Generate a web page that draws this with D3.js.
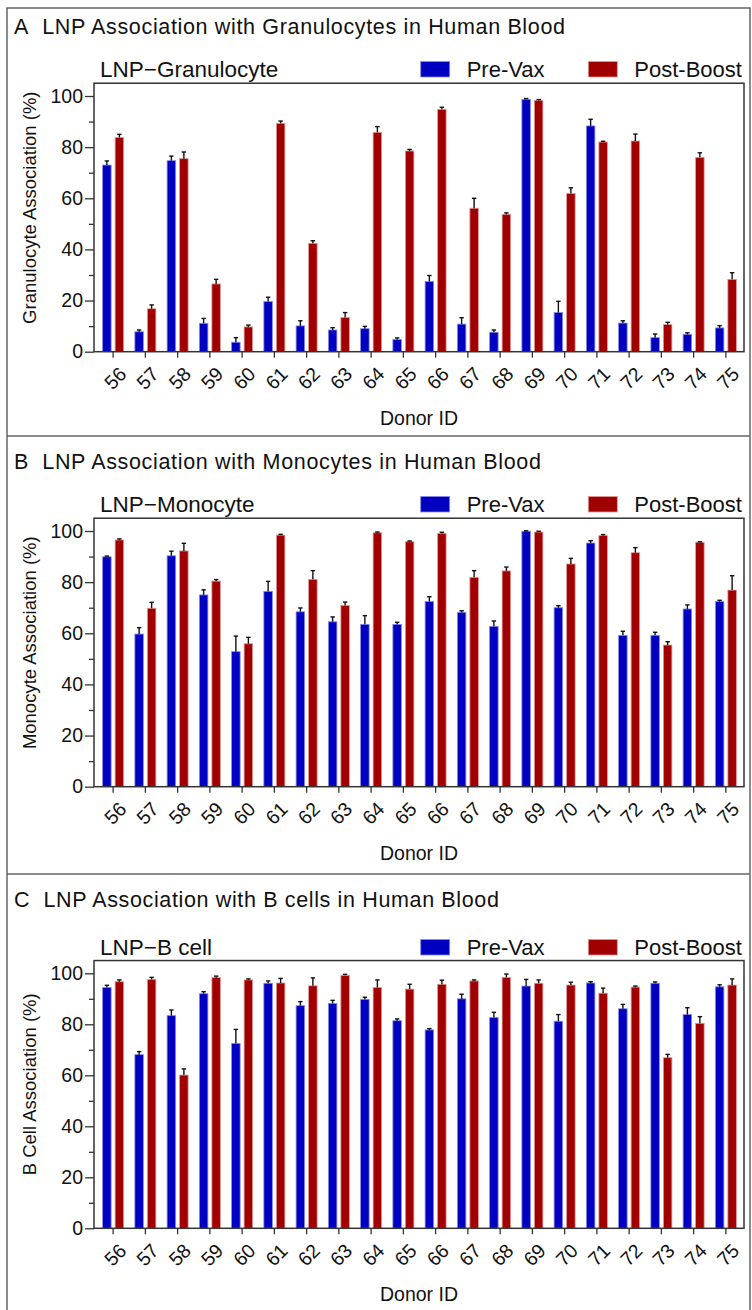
<!DOCTYPE html>
<html><head><meta charset="utf-8">
<script src="https://cdn.jsdelivr.net/npm/d3@7/dist/d3.min.js"></script>
<style>
html,body{margin:0;padding:0;background:#fff;}
text{font-family:"Liberation Sans",Arial,Helvetica,sans-serif;fill:#111;}
</style></head>
<body>
<svg id="chart" width="752" height="1310"></svg>
<script>
const donors = ["56","57","58","59","60","61","62","63","64","65","66","67","68","69","70","71","72","73","74","75"];
const seriesNames = ["Pre-Vax","Post-Boost"];
const yTicks = [0,20,40,60,80,100];

const granPre     = [73.0, 7.8, 74.7, 11.1, 3.7, 19.6, 10.1, 8.5, 9.0, 4.8, 27.5, 10.8, 7.6, 98.7, 15.3, 88.3, 11.2, 5.5, 6.8, 9.3];
const granPreErr  = [1.6, 0.7, 1.8, 1.9, 1.8, 1.7, 2.0, 0.9, 0.9, 0.6, 2.3, 2.5, 0.9, 0.3, 4.4, 2.6, 0.9, 1.4, 0.6, 0.9];
const granPost    = [83.8, 16.8, 75.5, 26.5, 9.7, 89.3, 42.4, 13.4, 85.8, 78.5, 94.8, 56.1, 53.7, 98.3, 61.9, 82.0, 82.4, 10.6, 76.0, 28.3];
const granPostErr = [1.2, 1.5, 2.6, 1.8, 0.7, 0.9, 1.0, 1.9, 2.2, 0.6, 0.8, 3.9, 0.6, 0.3, 2.2, 0.3, 2.7, 0.9, 1.8, 2.6];

const monoPre     = [89.9, 59.7, 90.3, 75.0, 52.8, 76.4, 68.4, 64.5, 63.5, 63.5, 72.4, 68.2, 62.7, 99.9, 70.0, 95.3, 59.2, 59.2, 69.5, 72.4];
const monoPreErr  = [0.3, 2.5, 1.8, 2.0, 6.1, 3.9, 1.5, 1.9, 3.4, 0.8, 1.9, 0.6, 2.1, 0.2, 0.8, 0.9, 1.6, 1.2, 1.6, 0.5];
const monoPost    = [96.5, 69.8, 92.2, 80.4, 55.9, 98.4, 81.1, 70.9, 99.3, 95.8, 99.1, 81.9, 84.4, 99.6, 87.1, 98.2, 91.5, 55.4, 95.6, 76.9];
const monoPostErr = [0.4, 2.3, 3.0, 0.6, 2.5, 0.3, 3.4, 1.3, 0.3, 0.3, 0.4, 2.6, 1.5, 0.3, 2.2, 0.4, 2.0, 1.3, 0.2, 5.6];

const bPre     = [94.4, 68.1, 83.4, 92.0, 72.5, 96.1, 87.3, 88.2, 89.8, 81.4, 77.8, 90.0, 82.7, 95.0, 81.2, 96.2, 86.1, 96.1, 83.8, 94.7];
const bPreErr  = [0.9, 1.2, 2.2, 0.8, 5.5, 0.9, 1.6, 1.2, 0.8, 0.7, 0.5, 1.8, 2.0, 2.6, 2.6, 0.5, 1.7, 0.5, 2.7, 0.8];
const bPost    = [96.7, 97.6, 60.1, 98.3, 97.4, 96.2, 95.1, 99.2, 94.4, 93.8, 95.7, 97.0, 98.4, 96.1, 95.4, 92.2, 94.6, 66.9, 80.4, 95.4];
const bPostErr = [0.7, 0.8, 2.4, 0.6, 0.4, 1.8, 3.1, 0.4, 3.0, 1.9, 1.6, 0.4, 1.3, 1.3, 1.1, 2.0, 0.4, 1.3, 2.6, 2.4];

const panels = [
  {title:"A\u00a0\u00a0LNP Association with Granulocytes in Human Blood", sub:"LNP\u2212Granulocyte", ylab:"Granulocyte Association (%)",
   pre:granPre, preErr:granPreErr, post:granPost, postErr:granPostErr, y100:96, y0:351.7, titleY:34, subY:77},
  {title:"B\u00a0\u00a0LNP Association with Monocytes in Human Blood", sub:"LNP\u2212Monocyte", ylab:"Monocyte Association (%)",
   pre:monoPre, preErr:monoPreErr, post:monoPost, postErr:monoPostErr, y100:531, y0:786.7, titleY:469, subY:512},
  {title:"C\u00a0\u00a0LNP Association with B cells in Human Blood", sub:"LNP\u2212B cell", ylab:"B Cell Association (%)",
   pre:bPre, preErr:bPreErr, post:bPost, postErr:bPostErr, y100:973.3, y0:1228.3, titleY:907, subY:955}
];

const colors = {"Pre-Vax":"#0000c0","Post-Boost":"#a00000"};
const strokes = {"Pre-Vax":"#8a8aee","Post-Boost":"#e09a9a"};

const svg = d3.select("#chart");

// outer border + separators
svg.append("path").attr("d","M7,1312 V8 H750 V1312").attr("fill","none").attr("stroke","#666").attr("stroke-width",1.5);
[436, 874].forEach(y=>svg.append("line").attr("x1",7).attr("x2",750).attr("y1",y).attr("y2",y).attr("stroke","#666").attr("stroke-width",1.5));

const x = d3.scaleBand().domain(donors).range([97, 742]).paddingInner(0).paddingOuter(0);
const xs = d3.scaleBand().domain(seriesNames).range([-10.5, 10.5]).paddingInner(0.32);
const plotL = 94, plotR = 744;

let titleFactor = null;

panels.forEach(p=>{
  const y = d3.scaleLinear().domain([0,100]).range([p.y0, p.y100]);
  const g = svg.append("g");
  const yTop = y(105);

  const t = g.append("text").attr("x",14).attr("y",p.titleY).attr("font-size",21.5).text(p.title);
  const w = t.node().getComputedTextLength();
  if (titleFactor === null) titleFactor = 551 / w;
  t.attr("textLength", w*titleFactor).attr("lengthAdjust","spacing");

  g.append("text").attr("x",100).attr("y",p.subY).attr("font-size",22.5).text(p.sub);

  // legend
  const lx = [420.7, 588.3];
  seriesNames.forEach((s,i)=>{
    g.append("rect").attr("x",lx[i]).attr("y",p.subY-15.5).attr("width",29).attr("height",15.5)
      .attr("fill",colors[s]).attr("stroke",strokes[s]).attr("stroke-width",0.8);
    g.append("text").attr("x",lx[i]+46).attr("y",p.subY).attr("font-size",22).text(s);
  });

  // bars
  const rows = donors.map((d,i)=>({d, vals:[{s:"Pre-Vax",v:p.pre[i],e:p.preErr[i]},{s:"Post-Boost",v:p.post[i],e:p.postErr[i]}]}));
  const grp = g.selectAll("g.donor").data(rows).join("g").attr("class","donor")
    .attr("transform",r=>`translate(${x(r.d)+x.bandwidth()/2},0)`);
  grp.selectAll("rect").data(r=>r.vals).join("rect")
    .attr("x",v=>xs(v.s)).attr("width",xs.bandwidth())
    .attr("y",v=>y(v.v)).attr("height",v=>y(0)-y(v.v))
    .attr("fill",v=>colors[v.s]).attr("stroke",v=>strokes[v.s]).attr("stroke-width",0.8);
  // error bars
  const eb = grp.selectAll("g.err").data(r=>r.vals).join("g").attr("class","err");
  eb.append("line").attr("x1",v=>xs(v.s)+xs.bandwidth()/2).attr("x2",v=>xs(v.s)+xs.bandwidth()/2)
    .attr("y1",v=>y(v.v)).attr("y2",v=>y(v.v+v.e)).attr("stroke","#111").attr("stroke-width",1.4);
  eb.append("line").attr("x1",v=>xs(v.s)+xs.bandwidth()/2-2.2).attr("x2",v=>xs(v.s)+xs.bandwidth()/2+2.2)
    .attr("y1",v=>y(v.v+v.e)).attr("y2",v=>y(v.v+v.e)).attr("stroke","#111").attr("stroke-width",1.4);

  // frame
  g.append("rect").attr("x",plotL).attr("y",yTop).attr("width",plotR-plotL).attr("height",p.y0-yTop)
    .attr("fill","none").attr("stroke","#333").attr("stroke-width",1.5);

  // y axis
  const yAxis = d3.axisLeft(y).tickValues(yTicks).tickSize(9).tickPadding(2).tickFormat(d3.format("d"));
  const ya = g.append("g").attr("transform",`translate(${plotL},0)`).call(yAxis);
  ya.select(".domain").remove();
  ya.selectAll("line").attr("stroke","#333").attr("stroke-width",1.3);
  ya.selectAll("text").attr("font-size",19.5).attr("font-family","Liberation Sans, Arial, sans-serif").attr("fill","#111");
  const yMinor = d3.axisLeft(y).tickValues([10,30,50,70,90]).tickSize(5).tickFormat("");
  const ym = g.append("g").attr("transform",`translate(${plotL},0)`).call(yMinor);
  ym.select(".domain").remove();
  ym.selectAll("line").attr("stroke","#333").attr("stroke-width",1.3);

  // x axis
  const xAxis = d3.axisBottom(x).tickSize(6).tickFormat("");
  const xa = g.append("g").attr("transform",`translate(0,${p.y0})`).call(xAxis);
  xa.select(".domain").remove();
  xa.selectAll("line").attr("stroke","#333").attr("stroke-width",1.3);
  xa.selectAll("g.tick").append("text").attr("font-size",19.5).attr("font-family","Liberation Sans, Arial, sans-serif")
    .attr("fill","#111").attr("text-anchor","end")
    .attr("transform","translate(5,14) rotate(-45)").attr("dy","0.7em").text(d=>d);

  g.append("text").attr("x",(plotL+plotR)/2).attr("y",p.y0+73).attr("text-anchor","middle").attr("font-size",19.5).text("Donor ID");
  g.append("text").attr("transform",`translate(36,${p.y0-144}) rotate(-90)`).attr("text-anchor","middle").attr("font-size",18.5).text(p.ylab);
});
</script>
</body></html>
